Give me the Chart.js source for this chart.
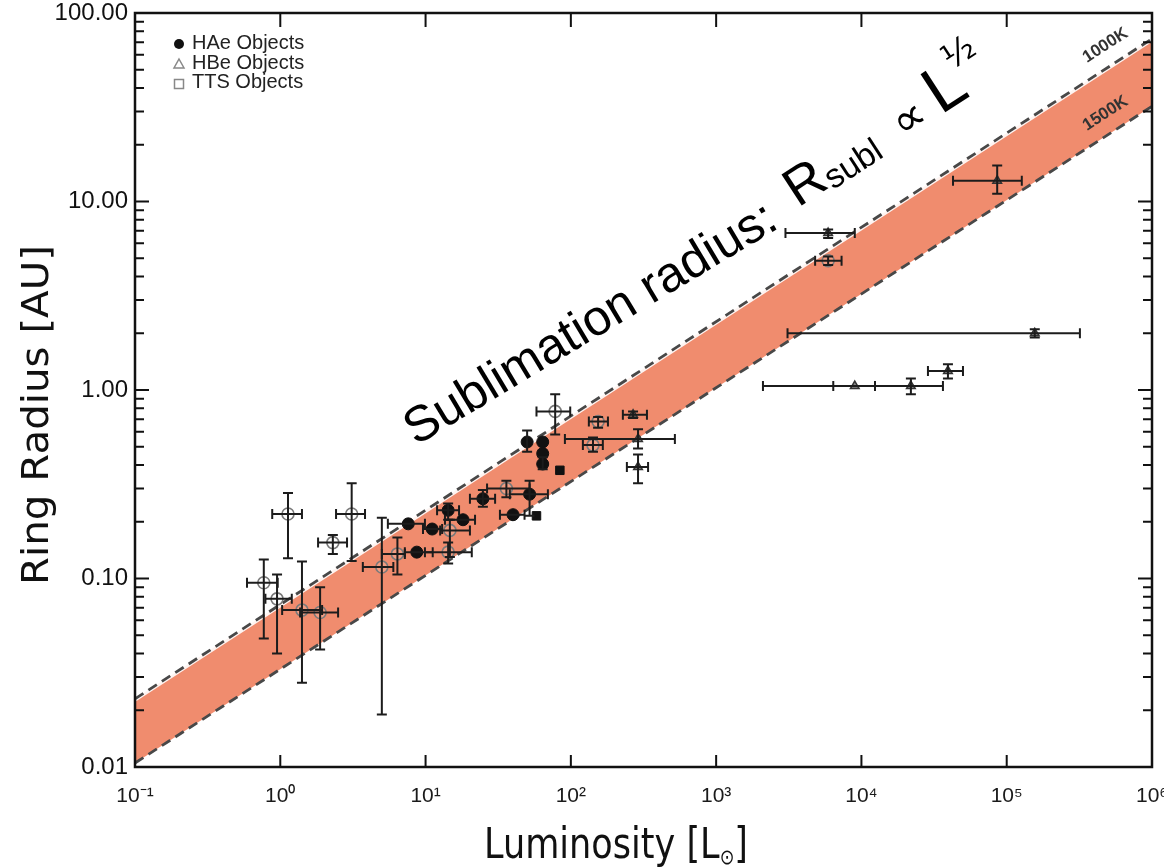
<!DOCTYPE html>
<html><head><meta charset="utf-8">
<script src="https://cdn.jsdelivr.net/npm/chart.js@4.4.0/dist/chart.umd.min.js"></script>
<style>html,body{margin:0;padding:0;background:#fff;overflow:hidden}#wrap{width:1164px;height:868px}</style>
</head><body><div id="wrap"><canvas id="c" width="1164" height="868"></canvas></div>
<script>
// ---- axis ticks ----
const xTickValues = [0.1, 1, 10, 100, 1000, 10000, 100000, 1000000];
const xTickLabels = ['10⁻¹', '10⁰', '10¹', '10²', '10³', '10⁴', '10⁵', '10⁶'];
const yTickValues = [0.01, 0.1, 1, 10, 100];
const yTickLabels = ['0.01', '0.10', '1.00', '10.00', '100.00'];

// ---- sublimation band (1000 K / 1500 K) ----
const bandL = [0.1, 1000000];
const band1000K = [0.023, 73];
const band1500K = [0.0105, 32];

// ---- HAe objects (filled) ----
const haeL    = [8.7, 7.6, 11.1, 14.3, 18.1, 24.8, 52, 40, 58, 50, 64, 64, 64, 84];
const haeLlo  = [7.2, 5.5, 9.6, 12.0, 13.6, 20.2, 38, 32.5, null, null, null, null, null, null];
const haeLhi  = [11.2, 9.9, 13.0, 17.0, 21.9, 30.1, 69.5, 48, null, null, null, null, null, null];
const haeR    = [0.138, 0.195, 0.183, 0.23, 0.205, 0.265, 0.28, 0.218, 0.215, 0.53, 0.53, 0.46, 0.405, 0.375];
const haeRlo  = [null, null, null, 0.205, null, 0.24, 0.215, null, null, 0.47, null, null, 0.38, null];
const haeRhi  = [null, null, null, 0.25, null, 0.295, 0.33, null, null, 0.61, null, null, 0.44, null];
const haeShape = ['circle','circle','circle','circle','circle','circle','circle','circle','rect','circle','circle','circle','circle','rect'];

// ---- HBe objects (triangles) ----
const hbeL    = [268, 290, 290, 5900, 156000, 39400, 21900, 9000, 86000];
const hbeLlo  = [228, 91, 243, 3000, 3100, 28700, 2100, 6400, 42700];
const hbeLhi  = [334, 520, 340, 9000, 319000, 50000, 36400, 12400, 127000];
const hbeR    = [0.74, 0.55, 0.39, 6.8, 2.0, 1.26, 1.05, 1.05, 12.9];
const hbeRlo  = [0.71, 0.49, 0.32, 6.4, 1.9, 1.15, 0.95, null, 11.0];
const hbeRhi  = [0.77, 0.62, 0.455, 7.1, 2.1, 1.37, 1.15, null, 15.5];

// ---- TTS objects (open) ----
const ttsL    = [1.13, 3.1, 2.3, 0.77, 0.95, 1.41, 1.88, 5.0, 6.4, 14.7, 14.3, 36, 78, 154, 142, 5900];
const ttsLlo  = [0.88, 2.42, 1.82, 0.59, 0.79, 1.03, 1.37, 3.7, 5.0, 12.6, 9.9, 26.5, 58, 133, 121, 4800];
const ttsLhi  = [1.41, 3.83, 2.88, 0.96, 1.2, 1.94, 2.5, 6.0, 7.2, 20.2, 20.8, 52, 99, 180, 166, 7300];
const ttsR    = [0.22, 0.22, 0.155, 0.095, 0.078, 0.068, 0.066, 0.115, 0.135, 0.18, 0.138, 0.30, 0.77, 0.68, 0.51, 4.85];
const ttsRlo  = [0.128, 0.124, 0.135, 0.048, 0.04, 0.028, 0.042, 0.019, 0.105, 0.13, 0.12, 0.27, 0.58, 0.63, 0.47, 4.6];
const ttsRhi  = [0.284, 0.32, 0.17, 0.126, 0.105, 0.123, 0.09, 0.21, 0.165, 0.205, 0.155, 0.33, 0.95, 0.72, 0.56, 5.1];

const legendNames = ['HAe Objects', 'HBe Objects', 'TTS Objects'];

const pts = (xs, ys) => xs.map((x, i) => ({x: x, y: ys[i]}));
const bandColor = 'rgb(240,140,110)';

const errSets = [
  {L: ttsL, Llo: ttsLlo, Lhi: ttsLhi, R: ttsR, Rlo: ttsRlo, Rhi: ttsRhi},
  {L: hbeL, Llo: hbeLlo, Lhi: hbeLhi, R: hbeR, Rlo: hbeRlo, Rhi: hbeRhi},
  {L: haeL, Llo: haeLlo, Lhi: haeLhi, R: haeR, Rlo: haeRlo, Rhi: haeRhi}
];

const errorBars = {
  id: 'errorBars',
  afterDatasetsDraw(chart) {
    const {ctx, scales: {x, y}} = chart;
    ctx.save();
    ctx.strokeStyle = '#1c1c1c';
    ctx.lineWidth = 2;
    const cap = 5;
    errSets.forEach(s => {
      s.L.forEach((L, i) => {
        const px = x.getPixelForValue(L), py = y.getPixelForValue(s.R[i]);
        if (s.Llo[i] != null && s.Lhi[i] != null) {
          const a = x.getPixelForValue(s.Llo[i]), b = x.getPixelForValue(s.Lhi[i]);
          ctx.beginPath();
          ctx.moveTo(a, py); ctx.lineTo(b, py);
          ctx.moveTo(a, py - cap); ctx.lineTo(a, py + cap);
          ctx.moveTo(b, py - cap); ctx.lineTo(b, py + cap);
          ctx.stroke();
        }
        if (s.Rlo[i] != null && s.Rhi[i] != null) {
          const a = y.getPixelForValue(s.Rlo[i]), b = y.getPixelForValue(s.Rhi[i]);
          ctx.beginPath();
          ctx.moveTo(px, a); ctx.lineTo(px, b);
          ctx.moveTo(px - cap, a); ctx.lineTo(px + cap, a);
          ctx.moveTo(px - cap, b); ctx.lineTo(px + cap, b);
          ctx.stroke();
        }
      });
    });
    ctx.restore();
  }
};

function drawRuns(ctx, x, y, deg, runs, color) {
  ctx.save();
  ctx.translate(x, y);
  ctx.rotate(deg * Math.PI / 180);
  ctx.fillStyle = color;
  ctx.textBaseline = 'alphabetic';
  ctx.textAlign = 'left';
  let cx = 0;
  runs.forEach(r => {
    ctx.font = r.font;
    ctx.fillText(r.text, cx + (r.dx || 0), r.dy || 0);
    cx += ctx.measureText(r.text).width + (r.dx || 0) + (r.after || 0);
  });
  ctx.restore();
}

const frameAndText = {
  id: 'frameAndText',
  afterDraw(chart) {
    const {ctx, chartArea: ca, scales: {x, y}} = chart;
    ctx.save();
    // frame
    ctx.strokeStyle = '#111';
    ctx.lineWidth = 2.5;
    ctx.strokeRect(ca.left, ca.top, ca.right - ca.left, ca.bottom - ca.top);
    // y ticks (left + right), inward
    ctx.lineWidth = 2;
    for (let d = -2; d <= 2; d++) {
      for (let k = 1; k <= 9; k++) {
        const v = k * Math.pow(10, d);
        if (v < 0.01 || v > 100) continue;
        const py = y.getPixelForValue(v);
        const len = k === 1 ? 14 : 9;
        ctx.beginPath();
        ctx.moveTo(ca.left, py); ctx.lineTo(ca.left + len, py);
        ctx.moveTo(ca.right, py); ctx.lineTo(ca.right - len, py);
        ctx.stroke();
      }
    }
    // x ticks (bottom + top), inward
    xTickValues.forEach(v => {
      const px = x.getPixelForValue(v);
      ctx.beginPath();
      ctx.moveTo(px, ca.bottom); ctx.lineTo(px, ca.bottom - 12);
      ctx.moveTo(px, ca.top); ctx.lineTo(px, ca.top + 14);
      ctx.stroke();
    });

    // legend
    ctx.fillStyle = '#111';
    ctx.beginPath(); ctx.arc(179, 44, 5, 0, Math.PI * 2); ctx.fill();
    ctx.strokeStyle = '#888'; ctx.lineWidth = 1.5;
    ctx.beginPath(); ctx.moveTo(179, 59); ctx.lineTo(184, 68); ctx.lineTo(174, 68); ctx.closePath(); ctx.stroke();
    ctx.strokeRect(174.5, 79.5, 9, 9);
    ctx.font = '20px "Liberation Sans", Arial, sans-serif';
    ctx.fillStyle = '#222';
    ctx.textBaseline = 'middle';
    ctx.textAlign = 'left';
    ctx.fillText(legendNames[0], 192, 43);
    ctx.fillText(legendNames[1], 192, 63);
    ctx.fillText(legendNames[2], 192, 82);

    // axis titles
    ctx.fillStyle = '#111';
    ctx.textBaseline = 'middle';
    ctx.textAlign = 'center';
    ctx.save();
    ctx.translate(38, 415);
    ctx.rotate(-Math.PI / 2);
    ctx.font = '38px "DejaVu Sans", sans-serif';
    const t1 = 'Ring Radius [AU]';
    const w1 = ctx.measureText(t1).width;
    ctx.scale(340 / w1, 1);
    ctx.fillText(t1, 0, 0);
    ctx.restore();

    ctx.save();
    ctx.font = '40px "DejaVu Sans", sans-serif';
    ctx.textAlign = 'left';
    ctx.textBaseline = 'alphabetic';
    const a = 'Luminosity [L', sub = '⊙', c = ']';
    const wa = ctx.measureText(a).width;
    ctx.font = '20px "DejaVu Sans", sans-serif';
    const ws = ctx.measureText(sub).width;
    ctx.font = '40px "DejaVu Sans", sans-serif';
    const wc = ctx.measureText(c).width;
    const tot = wa + ws + wc;
    ctx.translate(484, 858);
    ctx.scale(264 / tot, 1.05);
    ctx.fillText(a, 0, 0);
    ctx.font = '20px "DejaVu Sans", sans-serif';
    ctx.fillText(sub, wa, 6);
    ctx.font = '40px "DejaVu Sans", sans-serif';
    ctx.fillText(c, wa + ws, 0);
    ctx.restore();

    // annotation
    const F = '"Liberation Sans", Arial, sans-serif';
    drawRuns(ctx, 416, 446, -31, [
      {text: 'Sublimation radius:', font: '50px ' + F}
    ], '#000');
    drawRuns(ctx, 798, 208, -33, [
      {text: 'R', font: '54px ' + F},
      {text: 'subl', font: '34px ' + F, dy: 4, after: 24},
      {text: '∝', font: '46px "DejaVu Sans", sans-serif', after: 12},
      {text: 'L', font: '66px ' + F},
      {text: '½', font: '34px "DejaVu Sans", sans-serif', dx: -4, dy: -32}
    ], '#000');

    // temperature labels
    drawRuns(ctx, 1087, 63, -33, [{text: '1000K', font: 'bold 17px ' + F}], '#333');
    drawRuns(ctx, 1087, 131, -33, [{text: '1500K', font: 'bold 17px ' + F}], '#333');
    ctx.restore();
  }
};

new Chart(document.getElementById('c'), {
  data: {
    datasets: [
      {type: 'line', label: 'lowerWhite', data: pts(bandL, band1500K), borderColor: 'rgba(255,255,255,0.9)', borderWidth: 5.5, pointRadius: 0, fill: false, order: 14},
      {type: 'line', label: 'upperWhite', data: pts(bandL, band1000K), borderColor: 'rgba(255,255,255,0.9)', borderWidth: 5.5, pointRadius: 0, fill: {target: 0}, backgroundColor: bandColor, order: 13},
      {type: 'line', label: '1500K', data: pts(bandL, band1500K), borderColor: '#484848', borderWidth: 2.8, borderDash: [10, 6], pointRadius: 0, fill: false, order: 12},
      {type: 'line', label: '1000K', data: pts(bandL, band1000K), borderColor: '#484848', borderWidth: 2.8, borderDash: [10, 6], pointRadius: 0, fill: false, order: 11},
      {type: 'scatter', label: legendNames[2], data: pts(ttsL, ttsR), pointStyle: 'circle', pointRadius: 6, borderColor: '#7a7a7a', borderWidth: 1.6, backgroundColor: 'rgba(255,255,255,0.15)', order: 3},
      {type: 'scatter', label: legendNames[1], data: pts(hbeL, hbeR), pointStyle: 'triangle', pointRadius: 5, borderColor: '#333', borderWidth: 1.5, backgroundColor: 'rgba(90,90,90,0.7)', order: 2},
      {type: 'scatter', label: legendNames[0], data: pts(haeL, haeR), pointStyle: haeShape, pointRadius: 6, borderColor: '#111', borderWidth: 1, backgroundColor: '#111', order: 1}
    ]
  },
  options: {
    responsive: false,
    animation: false,
    layout: {padding: {left: 0, right: 12, top: 13, bottom: 0}},
    plugins: {legend: {display: false}, tooltip: {enabled: false}},
    scales: {
      x: {
        type: 'logarithmic', position: 'bottom', min: 0.1, max: 1000000,
        grid: {display: false, drawTicks: false}, border: {display: false},
        ticks: {
          autoSkip: false, maxRotation: 0, padding: 17, color: '#1a1a1a',
          font: {family: '"Liberation Sans", Arial, sans-serif', size: 21},
          callback: (v, i) => xTickLabels[i]
        },
        afterBuildTicks: s => { s.ticks = xTickValues.map(v => ({value: v})); },
        afterFit: s => { s.height = 101; s.paddingLeft = 0; s.paddingRight = 0; }
      },
      y: {
        type: 'logarithmic', position: 'left', min: 0.01, max: 100,
        grid: {display: false, drawTicks: false}, border: {display: false},
        ticks: {
          autoSkip: false, padding: 7, color: '#111',
          font: {family: '"Liberation Sans", Arial, sans-serif', size: 24},
          callback: (v, i) => yTickLabels[i]
        },
        afterBuildTicks: s => { s.ticks = yTickValues.map(v => ({value: v})); },
        afterFit: s => { s.width = 135; s.paddingTop = 0; s.paddingBottom = 0; }
      }
    }
  },
  plugins: [errorBars, frameAndText]
});
</script>
</body></html>
